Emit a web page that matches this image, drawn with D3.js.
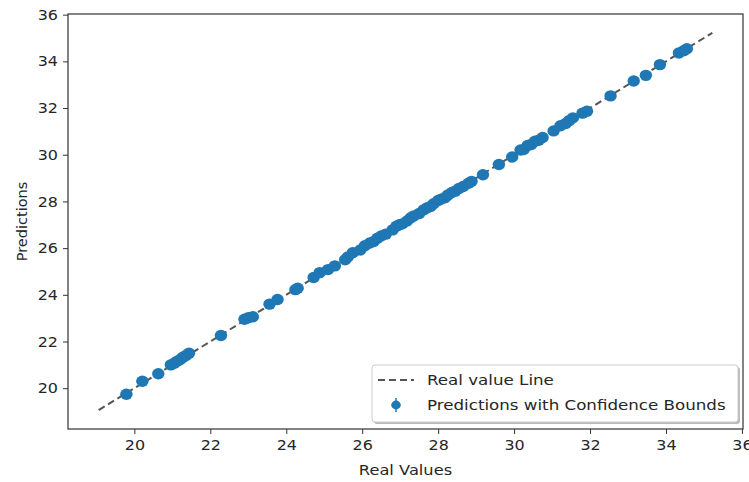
<!DOCTYPE html>
<meta charset="utf-8">
<style>
  body { margin: 0; background: #fff; }
  text { font-family: "DejaVu Sans", sans-serif; fill: #262626; }
  .tick text { font-size: 14.5px; }
  .axis-label { font-size: 14.5px; }
  .legend text { font-size: 14.5px; }
</style>
<body>
<script src="https://d3js.org/d3.v7.min.js"></script>
<script>
  // real values (x)
  var realValues = [19.79, 20.21, 20.63, 20.96, 21.05, 21.12, 21.2, 21.28, 21.36, 21.44,
    22.28, 22.9, 23.0, 23.12, 23.56, 23.77, 24.24, 24.3, 24.72, 24.88,
    25.1, 25.28, 25.55, 25.62, 25.75, 25.95, 26.07, 26.2, 26.3, 26.4,
    26.5, 26.62, 26.8, 26.9, 26.98, 27.06, 27.18, 27.28, 27.36, 27.5,
    27.62, 27.7, 27.8, 27.88, 28.0, 28.08, 28.18, 28.26, 28.36, 28.45,
    28.55, 28.66, 28.8, 28.88, 29.18, 29.6, 29.95, 30.17, 30.25, 30.36,
    30.45, 30.55, 30.65, 30.75, 31.04, 31.22, 31.36, 31.45, 31.55, 31.8,
    31.92, 32.54, 33.15, 33.47, 33.84, 34.34, 34.47, 34.55];

  // model predictions (y)
  var predictions = [19.74, 20.30, 20.62, 21.00, 21.07, 21.15, 21.22, 21.33, 21.40, 21.50,
    22.26, 22.95, 23.02, 23.06, 23.60, 23.80, 24.22, 24.28, 24.74, 24.95,
    25.08, 25.24, 25.50, 25.62, 25.80, 25.92, 26.10, 26.22, 26.28, 26.42,
    26.52, 26.60, 26.78, 26.94, 27.00, 27.04, 27.16, 27.30, 27.38, 27.48,
    27.64, 27.72, 27.78, 27.90, 28.04, 28.10, 28.16, 28.28, 28.38, 28.44,
    28.56, 28.64, 28.78, 28.86, 29.14, 29.58, 29.90, 30.20, 30.22, 30.40,
    30.44, 30.58, 30.62, 30.74, 31.02, 31.24, 31.34, 31.46, 31.58, 31.78,
    31.86, 32.52, 33.16, 33.40, 33.86, 34.36, 34.46, 34.54];

  // ends of the dashed "real value" line
  var lineEnds = [19.06, 35.22];

  var xTicks = [20, 22, 24, 26, 28, 30, 32, 34, 36];
  var yTicks = [20, 22, 24, 26, 28, 30, 32, 34, 36];

  var legendLabels = ["Real value Line", "Predictions with Confidence Bounds"];

  var width = 749, height = 482;
  var margin = {top: 14, right: 6, bottom: 53, left: 68};

  var svg = d3.select("body").append("svg")
    .attr("width", width)
    .attr("height", height);

  // the reference is a bit wider than tall, so stretch text horizontally
  function stretch(sel, k) {
    sel.each(function () {
      var len = this.getComputedTextLength();
      d3.select(this).attr("textLength", len * k).attr("lengthAdjust", "spacingAndGlyphs");
    });
  }

  // 5% padding like matplotlib autoscale
  var pad = (lineEnds[1] - lineEnds[0]) * 0.05;
  var x = d3.scaleLinear()
    .domain([lineEnds[0] - pad, lineEnds[1] + pad])
    .range([margin.left, width - margin.right]);
  var y = d3.scaleLinear()
    .domain([lineEnds[0] - pad, lineEnds[1] + pad])
    .range([height - margin.bottom, margin.top]);

  // axes
  var xAxis = svg.append("g")
    .attr("transform", "translate(0," + (height - margin.bottom) + ")")
    .call(d3.axisBottom(x).tickValues(xTicks).tickSize(5).tickPadding(6).tickFormat(d3.format("d")));
  var yAxis = svg.append("g")
    .attr("transform", "translate(" + margin.left + ",0)")
    .call(d3.axisLeft(y).tickValues(yTicks).tickSize(5).tickPadding(5).tickFormat(d3.format("d")));
  svg.selectAll(".domain").remove();
  svg.selectAll(".tick line").attr("stroke", "#333");
  svg.selectAll(".tick text").attr("fill", "#262626").call(stretch, 1.1);

  // dashed line y = x
  svg.append("line")
    .attr("x1", x(lineEnds[0])).attr("y1", y(lineEnds[0]))
    .attr("x2", x(lineEnds[1])).attr("y2", y(lineEnds[1]))
    .attr("stroke", "#555")
    .attr("stroke-width", 2)
    .attr("stroke-dasharray", "7,4");

  // points
  svg.append("g").selectAll("ellipse")
    .data(realValues)
    .enter().append("ellipse")
    .attr("cx", function (d) { return x(d); })
    .attr("cy", function (d, i) { return y(predictions[i]); })
    .attr("rx", 6.2)
    .attr("ry", 5.7)
    .attr("fill", "#1f77b4");

  // frame
  svg.append("rect")
    .attr("x", margin.left).attr("y", margin.top)
    .attr("width", width - margin.left - margin.right)
    .attr("height", height - margin.top - margin.bottom)
    .attr("fill", "none")
    .attr("stroke", "#333")
    .attr("stroke-width", 1.2);

  // axis labels
  svg.append("text")
    .attr("class", "axis-label")
    .attr("x", (margin.left + width - margin.right) / 2)
    .attr("y", 475)
    .attr("text-anchor", "middle")
    .text("Real Values")
    .call(stretch, 1.12);
  svg.append("text")
    .attr("class", "axis-label")
    .attr("transform", "translate(27," + ((margin.top + height - margin.bottom) / 2) + ") rotate(-90)")
    .attr("text-anchor", "middle")
    .text("Predictions");

  // legend
  var lg = svg.append("g").attr("class", "legend");
  lg.append("rect")
    .attr("x", 374).attr("y", 367).attr("width", 366).attr("height", 57)
    .attr("rx", 3).attr("fill", "#bbb");
  lg.append("rect")
    .attr("x", 372).attr("y", 365).attr("width", 366).attr("height", 57)
    .attr("rx", 3).attr("fill", "#fff").attr("stroke", "#ccc");
  lg.append("line")
    .attr("x1", 378).attr("y1", 380).attr("x2", 414).attr("y2", 380)
    .attr("stroke", "#555").attr("stroke-width", 2).attr("stroke-dasharray", "7,4");
  lg.append("line")
    .attr("x1", 396).attr("y1", 398).attr("x2", 396).attr("y2", 412)
    .attr("stroke", "#1f77b4").attr("stroke-width", 1.5);
  lg.append("ellipse")
    .attr("cx", 396).attr("cy", 405).attr("rx", 4.8).attr("ry", 4.4).attr("fill", "#1f77b4");
  lg.selectAll("text.lbl")
    .data(legendLabels)
    .enter().append("text")
    .attr("class", "lbl")
    .attr("x", 427)
    .attr("y", function (d, i) { return 385 + i * 25; })
    .text(function (d) { return d; })
    .call(stretch, 1.15);
</script>
</body>
